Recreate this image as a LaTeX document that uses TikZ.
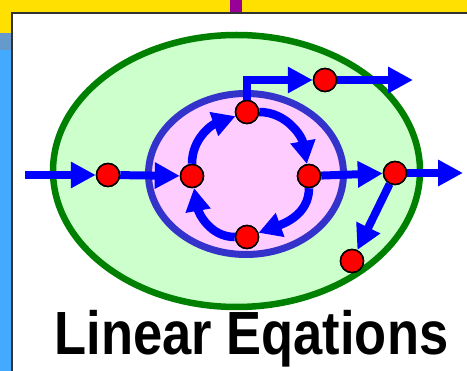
\documentclass[tikz,border=0pt]{standalone}
\usepackage{fontspec}
\setmainfont{Liberation Sans}
\usetikzlibrary{arrows.meta}
\definecolor{topyellow}{HTML}{FFE000}
\definecolor{purp}{HTML}{990099}
\definecolor{lblue}{HTML}{44AAFF}
\definecolor{gblue}{HTML}{6699CC}
\definecolor{dgreen}{HTML}{008000}
\definecolor{lgreen}{HTML}{CCFFCC}
\definecolor{ring}{HTML}{3333CC}
\definecolor{pinkf}{HTML}{FFCCFF}
\tikzset{
  dot/.style={circle,draw=black,line width=1.5pt,fill=red,minimum size=23pt,inner sep=0pt},
  arr/.style={draw=blue,line width=8pt,-{Triangle[length=25pt,width=25pt]}},
  loop/.style={draw=blue,line width=8.5pt,-{Triangle[length=23pt,width=24pt]}},
}
\begin{document}
\begin{tikzpicture}[x=1pt,y=-1pt]
\useasboundingbox (0,0) rectangle (467,371);
% frame
\fill[white] (0,0) rectangle (467,371);
\fill[topyellow] (0,0) rectangle (467,13);
\fill[topyellow] (0,0) rectangle (12,33);
\fill[purp] (230,0) rectangle (242,12);
\fill[gblue] (0,33) rectangle (12,50);
\fill[lblue] (0,50) rectangle (12,371);
\draw[black!80,line width=1.5pt] (467,13) -- (12,13) -- (12,371);
% ellipses
\draw[dgreen,fill=lgreen,line width=6.5pt] (236.5,171) ellipse [x radius=183.5, y radius=136];
\draw[ring,fill=pinkf,line width=7pt] (246,174) ellipse [x radius=97.5, y radius=80.5];
% nodes
\node[dot] (A) at (108,175) {};
\node[dot] (B) at (192,176) {};
\node[dot] (T) at (247,112) {};
\node[dot] (R) at (309,176) {};
\node[dot] (D) at (247,237) {};
\node[dot] (TR) at (325,80) {};
\node[dot] (RO) at (395,173) {};
\node[dot] (L) at (352,261) {};
\coordinate (in) at (25,175);
\coordinate (out1) at (413,80);
\coordinate (out2) at (463,173);
% connectors
\draw[arr] (in) -- (A);
\draw[arr] (A) -- (B);
\draw[loop] (B) to[out=90,in=200] (T);
\draw[loop] (T) to[out=0,in=100] (R);
\draw[loop] (R) to[out=270,in=20] (D);
\draw[loop] (D) to[out=180,in=280] (B);
\draw[arr] (T.north) |- (TR);
\draw[arr] (TR) -- (out1);
\draw[arr] (R) -- (RO);
\draw[arr] (RO) -- (out2);
\draw[arr] (RO) -- (L);
% redraw nodes on top
\foreach \n in {A,B,T,R,D,TR,RO,L} \node[dot] at (\n) {};
% title
\node[anchor=base,xscale=0.86,inner sep=0pt] (title) at (251.5,355) {\fontsize{61}{63}\selectfont\bfseries Linear Eqations};
\end{tikzpicture}
\end{document}
